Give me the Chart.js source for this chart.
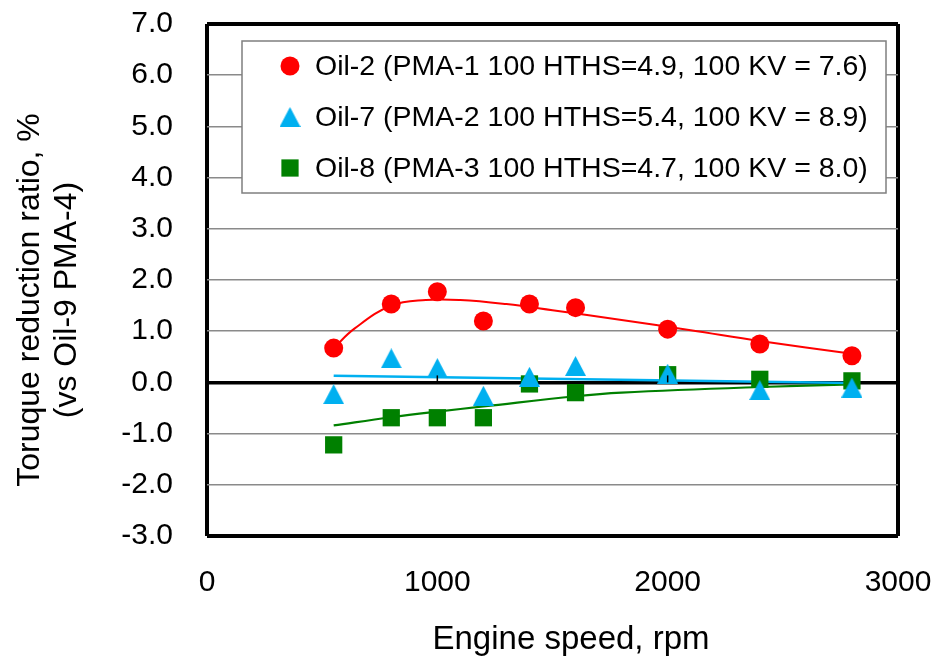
<!DOCTYPE html>
<html>
<head>
<meta charset="utf-8">
<script src="https://cdn.jsdelivr.net/npm/chart.js@4/dist/chart.umd.min.js"></script>
<style>
  html, body { margin: 0; padding: 0; background: #fff; }
  #wrap { width: 936px; height: 662px; }
</style>
</head>
<body>
<div id="wrap"><canvas id="c" width="936" height="662"></canvas></div>
<script>
// Engine speed (rpm) at which torque was measured
const speeds = [550, 800, 1000, 1200, 1400, 1600, 2000, 2400, 2800];

// Torque reduction ratio, % (vs Oil-9 PMA-4)
const oil2 = [0.67, 1.53, 1.77, 1.20, 1.53, 1.46, 1.04, 0.75, 0.52];
const oil7 = [-0.23, 0.47, 0.28, -0.26, 0.11, 0.32, 0.17, -0.15, -0.10];
const oil8 = [-1.22, -0.69, -0.69, -0.69, -0.03, -0.20, 0.15, 0.06, 0.03];

// Trend curves for each oil: [rpm, %]
const oil2Trend = [[550, 0.67], [640, 1.05], [800, 1.50], [950, 1.61], [1100, 1.61], [1300, 1.53],
                   [1500, 1.41], [1800, 1.22], [2100, 1.02], [2400, 0.81], [2800, 0.56]];
const oil7Trend = [[550, 0.13], [2800, -0.01]];
const oil8Trend = [[550, -0.84], [800, -0.68], [1000, -0.57], [1200, -0.47], [1600, -0.27],
                   [1800, -0.20], [2400, -0.09], [2800, -0.04]];

const seriesLabels = [
  'Oil-2 (PMA-1 100 HTHS=4.9, 100 KV = 7.6)',
  'Oil-7 (PMA-2 100 HTHS=5.4, 100 KV = 8.9)',
  'Oil-8 (PMA-3 100 HTHS=4.7, 100 KV = 8.0)'
];
const yTicks = [-3, -2, -1, 0, 1, 2, 3, 4, 5, 6, 7];
const xTicks = [0, 1000, 2000, 3000];
const xTitle = 'Engine speed, rpm';
const yTitle = ['Toruque reduction ratio, %', '(vs Oil-9 PMA-4)'];

const RED = '#ff0000', BLUE = '#00b0f0', GREEN = '#008000';
const FONT = '"Liberation Sans", Arial, Helvetica, sans-serif';

// Upright triangle marker, centred on its bounding box
function triangleMarker(w, h, color) {
  const c = document.createElement('canvas');
  c.width = w; c.height = h;
  const g = c.getContext('2d');
  g.fillStyle = color;
  g.beginPath();
  g.moveTo(w / 2, 0);
  g.lineTo(w, h);
  g.lineTo(0, h);
  g.closePath();
  g.fill();
  return c;
}
const triImg = triangleMarker(21, 20, BLUE);

const pts = (xs, ys) => xs.map((x, i) => ({ x, y: ys[i] }));
const pairs = arr => arr.map(p => ({ x: p[0], y: p[1] }));

const markerStyles = [
  { pointStyle: 'circle', radius: 9.5, color: RED },
  { pointStyle: triImg, radius: 10, color: BLUE },
  { pointStyle: 'rect', radius: 12.2, color: GREEN }
];

function scatterSet(label, data, m) {
  return {
    label, data, showLine: false,
    pointStyle: m.pointStyle, pointRadius: m.radius, pointHoverRadius: m.radius,
    backgroundColor: m.color, borderColor: m.color, pointBorderWidth: 0, order: 0
  };
}
function trendSet(data, color, width, tension) {
  return {
    label: '', data, showLine: true, pointRadius: 0, pointHoverRadius: 0,
    borderColor: color, borderWidth: width, tension, fill: false, order: 1
  };
}

// Legend panel inside the plot
const legendPanel = {
  id: 'legendPanel',
  afterDatasetsDraw(chart) {
    const ctx = chart.ctx;
    const x0 = 242, y0 = 41, w = 644, h = 152;
    ctx.save();
    ctx.fillStyle = '#fff';
    ctx.fillRect(x0, y0, w, h);
    ctx.strokeStyle = '#7f7f7f';
    ctx.lineWidth = 1.5;
    ctx.strokeRect(x0, y0, w, h);
    ctx.font = '28.5px ' + FONT;
    ctx.textBaseline = 'middle';
    ctx.textAlign = 'left';
    seriesLabels.forEach((t, i) => {
      const cy = 66 + i * 51;
      const m = markerStyles[i];
      ctx.fillStyle = m.color;
      Chart.helpers.drawPoint(ctx, { pointStyle: m.pointStyle, radius: m.radius, rotation: 0, borderWidth: 0 }, 290, cy);
      ctx.fillStyle = '#000';
      ctx.fillText(t, 315, cy + 1);
    });
    ctx.restore();
  }
};

// Axis titles and the small tick marks on the zero line
const axisDecor = {
  id: 'axisDecor',
  afterDraw(chart) {
    const ctx = chart.ctx;
    const xs = chart.scales.x, ys = chart.scales.y;
    ctx.save();
    ctx.strokeStyle = '#000';
    ctx.lineWidth = 1.5;
    const y0 = ys.getPixelForValue(0);
    [1000, 2000].forEach(v => {
      const px = xs.getPixelForValue(v);
      ctx.beginPath();
      ctx.moveTo(px, y0 - 7);
      ctx.lineTo(px, y0);
      ctx.stroke();
    });
    ctx.fillStyle = '#000';
    ctx.font = '33px ' + FONT;
    ctx.textAlign = 'center';
    ctx.textBaseline = 'middle';
    ctx.fillText(xTitle, 571, 640);
    ctx.font = '32px ' + FONT;
    ctx.translate(0, 300);
    ctx.rotate(-Math.PI / 2);
    ctx.fillText(yTitle[0], 0, 30);
    ctx.fillText(yTitle[1], 0, 67);
    ctx.restore();
  }
};

new Chart(document.getElementById('c'), {
  type: 'scatter',
  data: {
    datasets: [
      scatterSet(seriesLabels[0], pts(speeds, oil2), markerStyles[0]),
      scatterSet(seriesLabels[1], pts(speeds, oil7), markerStyles[1]),
      scatterSet(seriesLabels[2], pts(speeds, oil8), markerStyles[2]),
      trendSet(pairs(oil2Trend), RED, 2, 0.4),
      trendSet(pairs(oil7Trend), BLUE, 2.5, 0),
      trendSet(pairs(oil8Trend), GREEN, 2.2, 0.4)
    ]
  },
  options: {
    responsive: false,
    animation: false,
    events: [],
    layout: { padding: { left: 0, right: 38, top: 24, bottom: 0 } },
    plugins: { legend: { display: false }, tooltip: { enabled: false } },
    scales: {
      x: {
        type: 'linear', min: 0, max: 3000,
        afterBuildTicks: s => { s.ticks = xTicks.map(v => ({ value: v })); },
        afterFit: s => { s.height = 126; s.paddingLeft = 0; s.paddingRight = 0; },
        border: { display: false },
        grid: {
          drawTicks: false,
          color: c => (c.tick && (c.tick.value === 0 || c.tick.value === 3000)) ? '#000' : 'rgba(0,0,0,0)',
          lineWidth: 4
        },
        ticks: {
          color: '#000', font: { family: FONT, size: 30 }, padding: 29, maxRotation: 0,
          callback: v => String(v)
        }
      },
      y: {
        type: 'linear', min: -3, max: 7,
        afterBuildTicks: s => { s.ticks = yTicks.map(v => ({ value: v })); },
        afterFit: s => { s.width = 207; s.paddingTop = 0; s.paddingBottom = 0; },
        border: { display: false },
        grid: {
          drawTicks: false,
          color: c => {
            const v = c.tick && c.tick.value;
            return (v === 7 || v === -3 || v === 0) ? '#000' : '#8a8a8a';
          },
          lineWidth: c => {
            const v = c.tick && c.tick.value;
            return (v === 7 || v === -3) ? 4 : (v === 0 ? 3.5 : 1.5);
          }
        },
        ticks: {
          color: '#000', font: { family: FONT, size: 30 }, padding: 34,
          callback: v => Number(v).toFixed(1)
        }
      }
    }
  },
  plugins: [legendPanel, axisDecor]
});
</script>
</body>
</html>
